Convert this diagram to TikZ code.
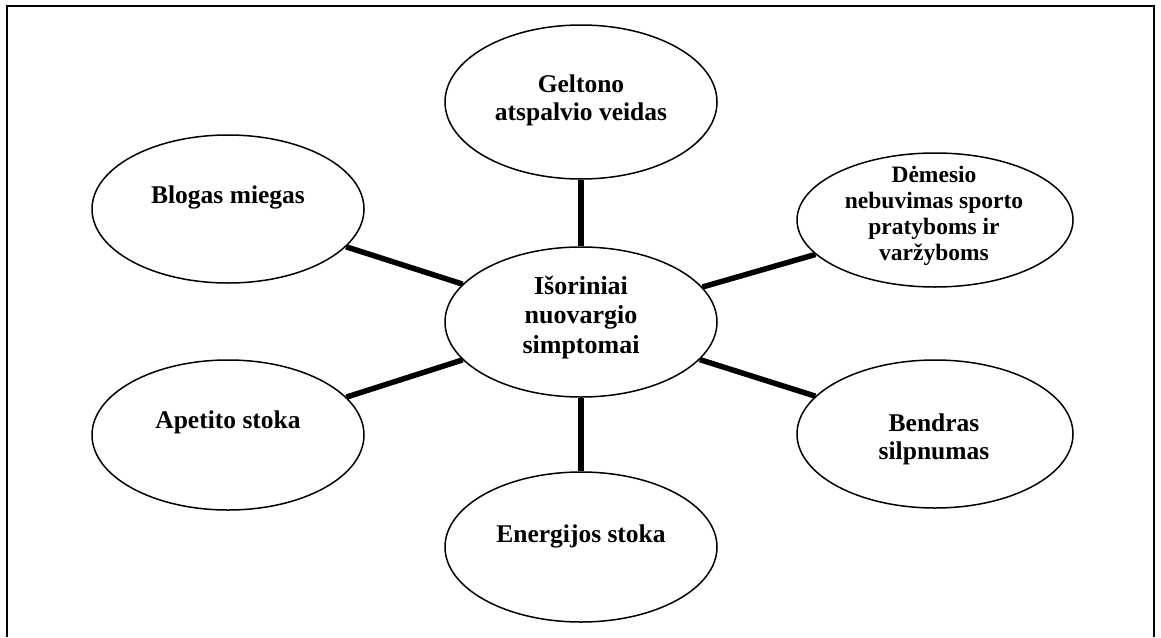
\documentclass[tikz,border=0pt]{standalone}
\usepackage{fontspec}
\setmainfont{Liberation Serif}
\usetikzlibrary{shapes.geometric}
\tikzset{
  bubble/.style={draw, ellipse, line width=1.5pt, inner sep=0pt},
  conn/.style={line width=5.5pt},
  frame/.style={line width=2pt},
  lbl/.style={align=center, anchor=base, inner sep=0pt, font=\bfseries\fontsize{25.5}{28}\selectfont},
}
\begin{document}
\begin{tikzpicture}[x=1pt,y=-1pt]
\useasboundingbox (0,0) rectangle (1161,637);
\draw[frame] (7,637) -- (7,6) -- (1154,6) -- (1154,637);
\node[bubble, minimum width=272pt, minimum height=150pt] (c) at (581,322) {};
\node[bubble, minimum width=272pt, minimum height=154pt] (g) at (581,102) {};
\node[bubble, minimum width=272pt, minimum height=148pt] (b) at (228,209) {};
\node[bubble, minimum width=276pt, minimum height=134pt] (d) at (935,220) {};
\node[bubble, minimum width=272pt, minimum height=150pt] (a) at (228,435) {};
\node[bubble, minimum width=276pt, minimum height=148pt] (s) at (935,434) {};
\node[bubble, minimum width=272pt, minimum height=150pt] (e) at (581,547) {};
\draw[conn] (c) -- (g);
\draw[conn] (c) -- (b);
\draw[conn] (c) -- (d);
\draw[conn] (c) -- (a);
\draw[conn] (c) -- (s);
\draw[conn] (c) -- (e);
\node[lbl, font=\bfseries\fontsize{26}{29.5}\selectfont] (tc) at (581,353) {Išoriniai\\nuovargio\\simptomai};
\node[lbl] (tg) at (581,120) {Geltono\\atspalvio veidas};
\node[lbl] (tb) at (228,203) {Blogas miegas};
\node[lbl, font=\bfseries\fontsize{23.5}{26}\selectfont] (td) at (934,260) {Dėmesio\\nebuvimas sporto\\pratyboms ir\\varžyboms};
\node[lbl] (ta) at (228,428) {Apetito stoka};
\node[lbl] (ts) at (934,459) {Bendras\\silpnumas};
\node[lbl] (te) at (581,542) {Energijos stoka};
\end{tikzpicture}
\end{document}
